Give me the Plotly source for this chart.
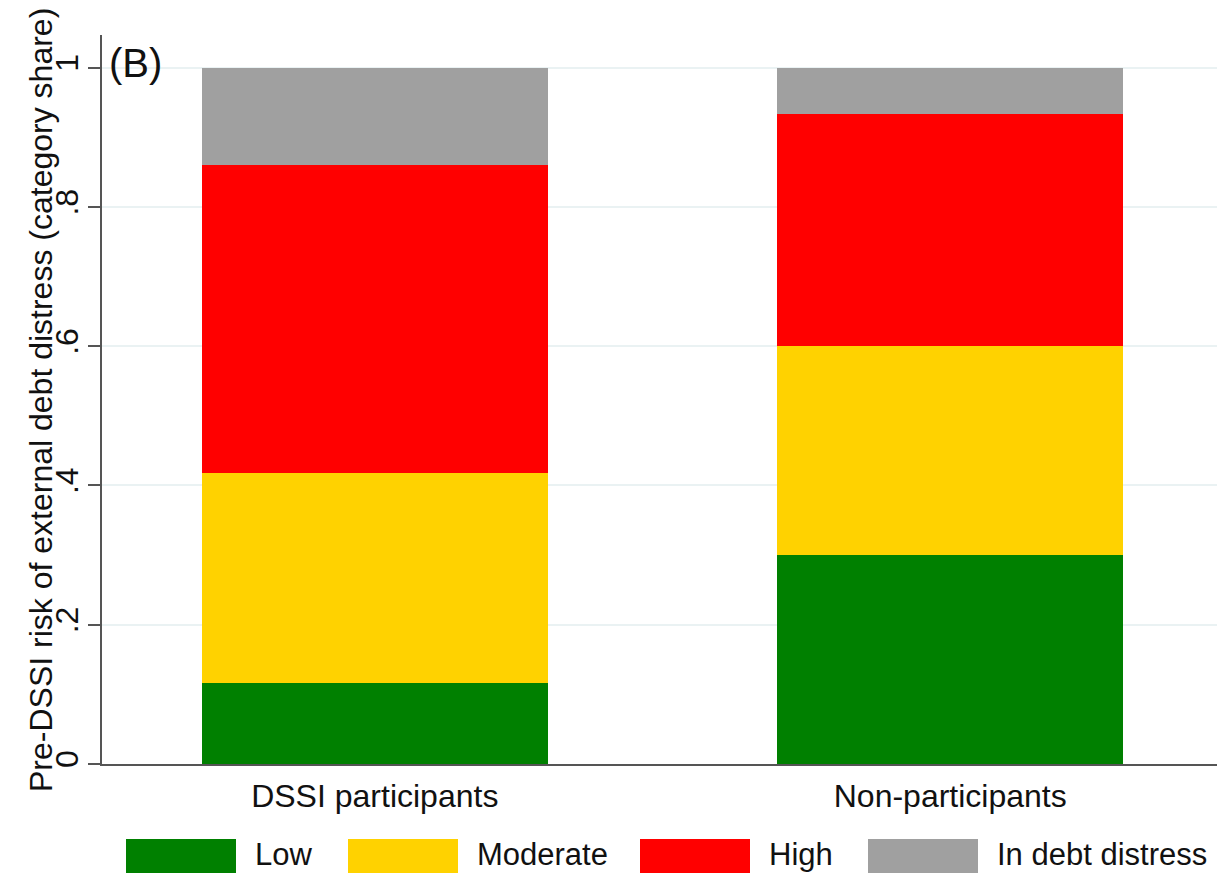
import plotly.graph_objects as go

# Share of countries in each pre-DSSI risk category
categories = ["DSSI participants", "Non-participants"]
risk_levels = ["Low", "Moderate", "High", "In debt distress"]
low = [0.116, 0.300]
moderate = [0.302, 0.300]
high = [0.442, 0.333]
in_distress = [0.140, 0.067]

y_tickvals = [0, 0.2, 0.4, 0.6, 0.8, 1]
y_ticktext = ["0", ".2", ".4", ".6", ".8", "1"]
y_title = "Pre-DSSI risk of external debt distress (category share)"

colors = ["#008000", "#FFD200", "#FF0000", "#A0A0A0"]
series = [low, moderate, high, in_distress]

W, H = 1217, 873
M_L, M_R, M_T, M_B = 102, 0, 35, 109
FONT = "Liberation Sans, Arial, sans-serif"
FS = 32
TXT = "#111111"

fig = go.Figure()
for name, vals, col in zip(risk_levels, series, colors):
    fig.add_trace(go.Bar(
        x=categories, y=vals, name=name,
        marker=dict(color=col, line=dict(width=0)),
        width=0.601, showlegend=False,
    ))

# pixel -> paper helpers for the hand-drawn legend, panel tag and axis title
pw = W - M_L - M_R
ph = H - M_T - M_B
def px_x(p):
    return (p - M_L) / pw
def px_y(p):
    return (H - M_B - p) / ph

shapes = []
annotations = []
box_lefts = [126, 348, 640, 868]
box_w = 110
box_top, box_bot = 839, 873
for name, col, bx in zip(risk_levels, colors, box_lefts):
    shapes.append(dict(
        type="rect", xref="paper", yref="paper",
        x0=px_x(bx), x1=px_x(bx + box_w),
        y0=px_y(box_bot), y1=px_y(box_top),
        fillcolor=col, line=dict(width=0), layer="above",
    ))
    annotations.append(dict(
        text=name, xref="paper", yref="paper",
        x=px_x(bx + box_w + 17), y=px_y(854),
        xanchor="left", yanchor="middle", showarrow=False,
        font=dict(family=FONT, size=31, color=TXT),
    ))

annotations.append(dict(
    text="(B)", xref="paper", yref="paper",
    x=px_x(107), y=px_y(63), xanchor="left", yanchor="middle",
    showarrow=False, font=dict(family=FONT, size=40, color=TXT),
))

annotations.append(dict(
    text=y_title, xref="paper", yref="paper",
    x=px_x(41), y=px_y(400), xanchor="center", yanchor="middle",
    textangle=-90, showarrow=False,
    font=dict(family=FONT, size=FS, color=TXT),
))

fig.update_layout(
    width=W, height=H,
    margin=dict(l=M_L, r=M_R, t=M_T, b=M_B),
    barmode="stack", bargap=0,
    plot_bgcolor="white", paper_bgcolor="white",
    font=dict(family=FONT, size=FS, color=TXT),
    shapes=shapes, annotations=annotations,
    xaxis=dict(
        range=[-0.474, 1.4635], showgrid=False,
        showline=True, linecolor="#555555", linewidth=2,
        ticks="", ticklabelstandoff=3,
        tickfont=dict(size=FS, family=FONT, color=TXT),
        fixedrange=True,
    ),
    yaxis=dict(
        range=[0, 1.047], tickvals=y_tickvals, ticktext=y_ticktext,
        tickangle=-90, ticks="outside", ticklen=12, tickwidth=2,
        tickcolor="#555555", ticklabelstandoff=-3,
        tickfont=dict(size=FS, family=FONT, color=TXT),
        showgrid=True, gridcolor="#EAF2F3", gridwidth=2,
        zeroline=False, showline=True, linecolor="#555555", linewidth=2,
        fixedrange=True,
    ),
)

fig.write_html("out.html")
